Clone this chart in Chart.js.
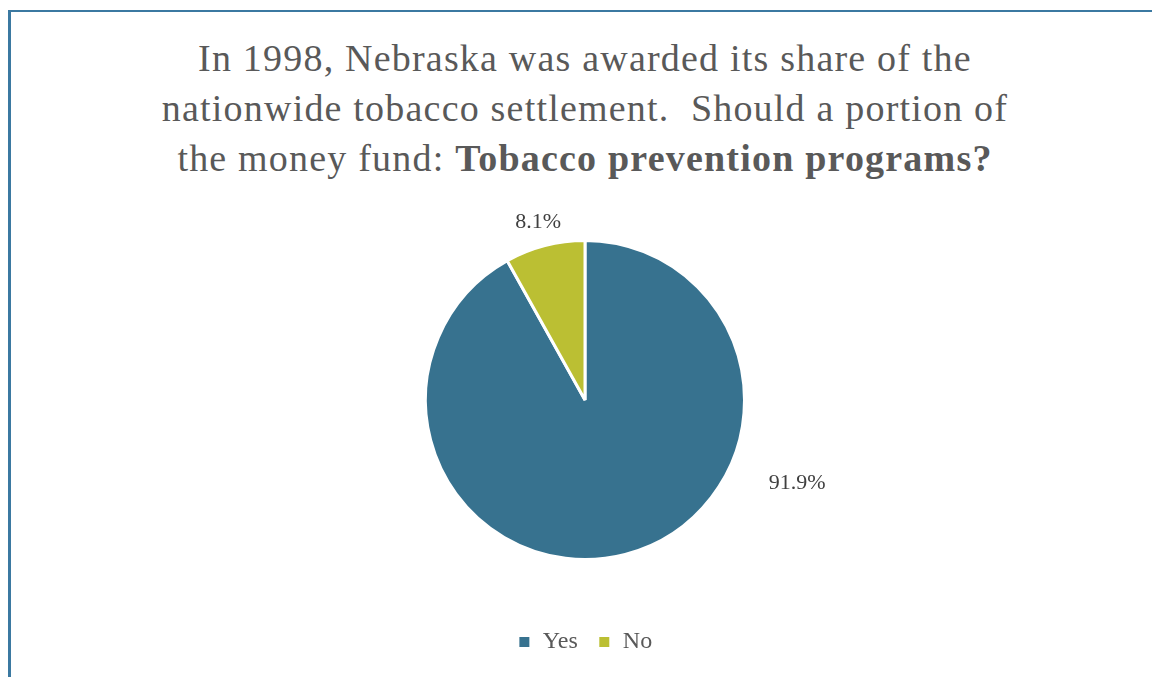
<!DOCTYPE html>
<html>
<head>
<meta charset="utf-8">
<script src="https://cdn.jsdelivr.net/npm/chart.js@4.4.1/dist/chart.umd.min.js"></script>
<style>
    html, body { margin: 0; padding: 0; background: #fff; overflow: hidden; }
    body { width: 1152px; height: 677px; position: relative; }
    .frame {
        position: absolute; left: 8px; top: 10px; width: 1200px; height: 700px;
        border-top: 2px solid #3b79a1; border-left: 3px solid #3b79a1;
    }
    .title {
        position: absolute; left: 35px; width: 1100px; top: 33px;
        text-align: center; color: #595959;
        font-family: "Liberation Serif", "DejaVu Serif", serif;
        font-size: 38px; line-height: 50px; letter-spacing: 1.2px;
    }
    .title b { font-weight: bold; }
    #chartWrap { position: absolute; left: 0; top: 0; width: 1152px; height: 677px; }
</style>
</head>
<body>
<div class="frame"></div>
<div class="title">In 1998, Nebraska was awarded its share of the<br>nationwide tobacco settlement.&nbsp; Should a portion of<br>the money fund: <b>Tobacco prevention programs?</b></div>
<div id="chartWrap"><canvas id="pieChart"></canvas></div>
<script>
// Survey answers
const answers = ['Yes', 'No'];
const shares = [91.9, 8.1];
const valueLabels = ['91.9%', '8.1%'];
const sliceColors = ['#37728f', '#bbbf33'];

// where each percentage label sits: angle from 12 o'clock (deg, clockwise) and distance as radius factor
const labelPlacement = [
    { angle: 111.5, dist: 1.43 },
    { angle: -14.8, dist: 1.15 }
];

const outsideLabels = {
    id: 'outsideLabels',
    afterDatasetsDraw(chart) {
        const ctx = chart.ctx;
        const meta = chart.getDatasetMeta(0);
        ctx.save();
        ctx.font = '22px "Liberation Serif", serif';
        ctx.fillStyle = '#404040';
        ctx.textAlign = 'center';
        ctx.textBaseline = 'middle';
        meta.data.forEach((arc, i) => {
            const p = labelPlacement[i];
            const a = (p.angle - 90) * Math.PI / 180;
            const r = arc.outerRadius * p.dist;
            ctx.fillText(valueLabels[i], arc.x + Math.cos(a) * r, arc.y + Math.sin(a) * r);
        });
        ctx.restore();
    }
};

new Chart(document.getElementById('pieChart'), {
    type: 'pie',
    data: {
        labels: answers,
        datasets: [{
            data: shares,
            backgroundColor: sliceColors,
            borderColor: '#ffffff',
            borderWidth: 3
        }]
    },
    options: {
        responsive: true,
        maintainAspectRatio: false,
        animation: false,
        layout: { padding: { top: 190, left: 424, right: 406, bottom: 13 } },
        plugins: {
            legend: {
                position: 'bottom',
                labels: {
                    boxWidth: 13,
                    boxHeight: 13,
                    padding: 20,
                    color: '#595959',
                    font: { family: '"Liberation Serif", serif', size: 24 }
                }
            },
            tooltip: { enabled: false }
        }
    },
    plugins: [outsideLabels]
});
</script>
</body>
</html>
